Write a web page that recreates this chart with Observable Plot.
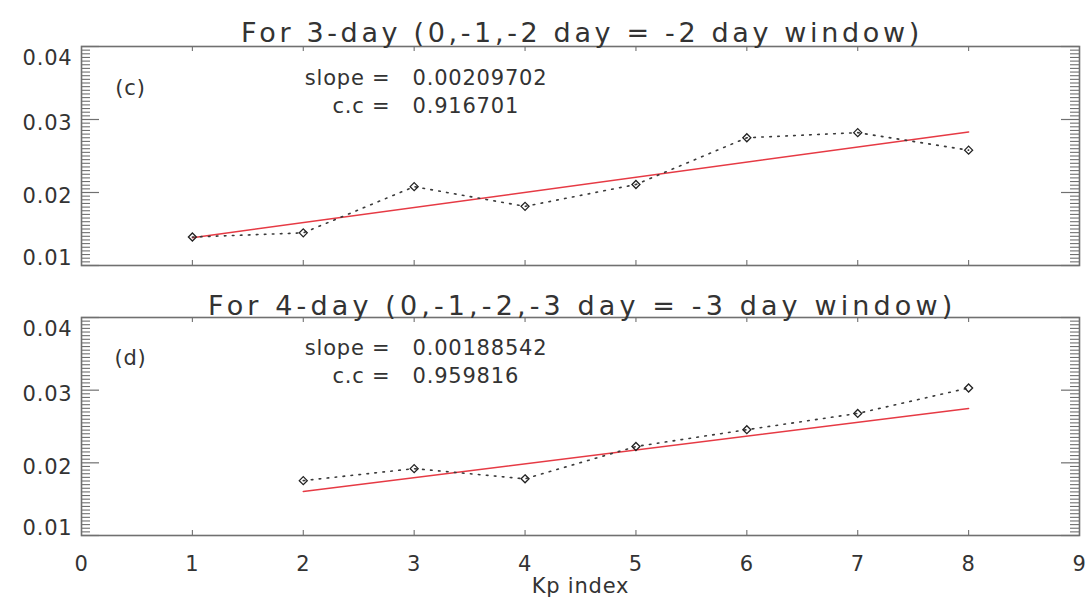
<!DOCTYPE html>
<html><head><meta charset="utf-8">
<script src="https://cdn.jsdelivr.net/npm/d3@7"></script>
<script src="https://cdn.jsdelivr.net/npm/@observablehq/plot@0.6"></script>
<style>
html,body{margin:0;padding:0;background:#fff;}
#chart{width:1091px;height:605px;overflow:hidden;background:#fff;}
#chart svg{display:block;}
</style></head><body><div id="chart"></div>
<script>
// ---- tick labels ----
const kpTicks = [0, 1, 2, 3, 4, 5, 6, 7, 8, 9];
const yMajorTicks = [0.01, 0.02, 0.03, 0.04];
const xLabel = "Kp index";

// ---- panel (c) ----
const titleC = "For 3-day (0,-1,-2 day = -2 day window)";
const tagC = "(c)";
const slopeC = "0.00209702";
const ccC = "0.916701";
const kpC = [1, 2, 3, 4, 5, 6, 7, 8];
const valC = [0.0139, 0.01447, 0.0208, 0.0181, 0.0211, 0.0275, 0.0282, 0.0258];
const fitKpC = [1, 8];
const fitValC = [0.0138, 0.0283];

// ---- panel (d) ----
const titleD = "For 4-day (0,-1,-2,-3 day = -3 day window)";
const tagD = "(d)";
const slopeD = "0.00188542";
const ccD = "0.959816";
const kpD = [2, 3, 4, 5, 6, 7, 8];
const valD = [0.01755, 0.0192, 0.0178, 0.02225, 0.02456, 0.0268, 0.0303];
const fitKpD = [2, 8];
const fitValD = [0.01607, 0.02747];

const W = 1091, ML = 81, MR = 12;
const PW = W - ML - MR;
const yMinorTicks = d3.range(20, 81).filter(i => i % 20 !== 0).map(i => i / 2000);
const ink = "#333", axisInk = "#707070";

function panel(o) {
  const PH = o.height - o.marginTop - o.marginBottom;
  const pts = o.kp.map((k, i) => ({kp: k, v: o.val[i]}));
  const fit = o.fitKp.map((k, i) => ({kp: k, v: o.fitVal[i]}));
  const fmt = d3.format(".2f");
  const txt = {frameAnchor: "top-left", fontSize: 21, fill: ink};
  const marks = [
    Plot.frame({stroke: axisInk, strokeWidth: 1.6}),
    Plot.tickY(yMinorTicks, {insetRight: PW - 9, stroke: axisInk, strokeWidth: 1.1}),
    Plot.tickY(yMinorTicks, {insetLeft: PW - 9, stroke: axisInk, strokeWidth: 1.1}),
    Plot.tickY(yMajorTicks, {insetRight: PW - 18, stroke: axisInk, strokeWidth: 1.2}),
    Plot.tickY(yMajorTicks, {insetLeft: PW - 18, stroke: axisInk, strokeWidth: 1.2}),
    Plot.tickX(kpTicks.slice(1, -1), {insetTop: PH - 5, stroke: axisInk, strokeWidth: 1.1}),
    Plot.tickX(kpTicks.slice(1, -1), {insetBottom: PH - 5, stroke: axisInk, strokeWidth: 1.1}),
    Plot.axisY([0.02, 0.03], {tickSize: 0, tickPadding: 9, dy: 4, fontSize: 21, fill: ink, label: null, tickFormat: fmt}),
    Plot.axisY([0.04], {tickSize: 0, tickPadding: 9, dy: 12, fontSize: 21, fill: ink, label: null, tickFormat: fmt}),
    Plot.axisY([0.01], {tickSize: 0, tickPadding: 9, dy: -7, fontSize: 21, fill: ink, label: null, tickFormat: fmt}),
    Plot.line(fit, {x: "kp", y: "v", stroke: "#e63a44", strokeWidth: 1.5}),
    Plot.line(pts, {x: "kp", y: "v", stroke: "#3a3a3a", strokeWidth: 1.6, strokeDasharray: "1.6,6.4"}),
    Plot.dot(pts, {x: "kp", y: "v", symbol: "diamond2", r: 3.6, stroke: "#222", strokeWidth: 1.3, fill: "none"}),
    Plot.text([o.title], {frameAnchor: "top", dy: o.titleDy, fontSize: 27, fill: ink}),
    Plot.text([o.tag], {...txt, dx: 49, dy: o.tDy + 10, textAnchor: "middle"}),
    Plot.text(["slope ="], {...txt, dx: 309, dy: o.tDy, textAnchor: "end"}),
    Plot.text(["c.c ="], {...txt, dx: 309, dy: o.tDy + 28, textAnchor: "end"}),
    Plot.text([o.slope], {...txt, dx: 331, dy: o.tDy, textAnchor: "start"}),
    Plot.text([o.cc], {...txt, dx: 331, dy: o.tDy + 28, textAnchor: "start"})
  ];
  if (o.showX) {
    marks.push(Plot.axisX(kpTicks, {tickSize: 0, tickPadding: 21, fontSize: 21, fill: ink, label: null}));
    marks.push(Plot.text([xLabel], {frameAnchor: "bottom", dy: 57, fontSize: 21, fill: ink}));
  }
  const svg = Plot.plot({
    width: W, height: o.height,
    marginLeft: ML, marginRight: MR, marginTop: o.marginTop, marginBottom: o.marginBottom,
    x: {domain: [0, 9], axis: null},
    y: {domain: [0.01, 0.04], axis: null},
    style: {fontFamily: "DejaVu Sans, sans-serif", fontSize: "21px", background: "white", overflow: "visible", letterSpacing: "0.8px"},
    marks
  });
  svg.querySelectorAll("text").forEach(t => {
    if (t.textContent === o.title) {
      t.setAttribute("textLength", o.titleLen);
      t.setAttribute("lengthAdjust", "spacing");
    }
  });
  return svg;
}

const root = document.getElementById("chart");
root.appendChild(panel({
  title: titleC, tag: tagC, slope: slopeC, cc: ccC, kp: kpC, val: valC, fitKp: fitKpC, fitVal: fitValC,
  height: 282, marginTop: 46, marginBottom: 17, showX: false, titleDy: -24, tDy: 24, titleLen: 679
}));
root.appendChild(panel({
  title: titleD, tag: tagD, slope: slopeD, cc: ccD, kp: kpD, val: valD, fitKp: fitKpD, fitVal: fitValD,
  height: 323, marginTop: 35, marginBottom: 70, showX: true, titleDy: -22, tDy: 23, titleLen: 745
}));
</script></body></html>
